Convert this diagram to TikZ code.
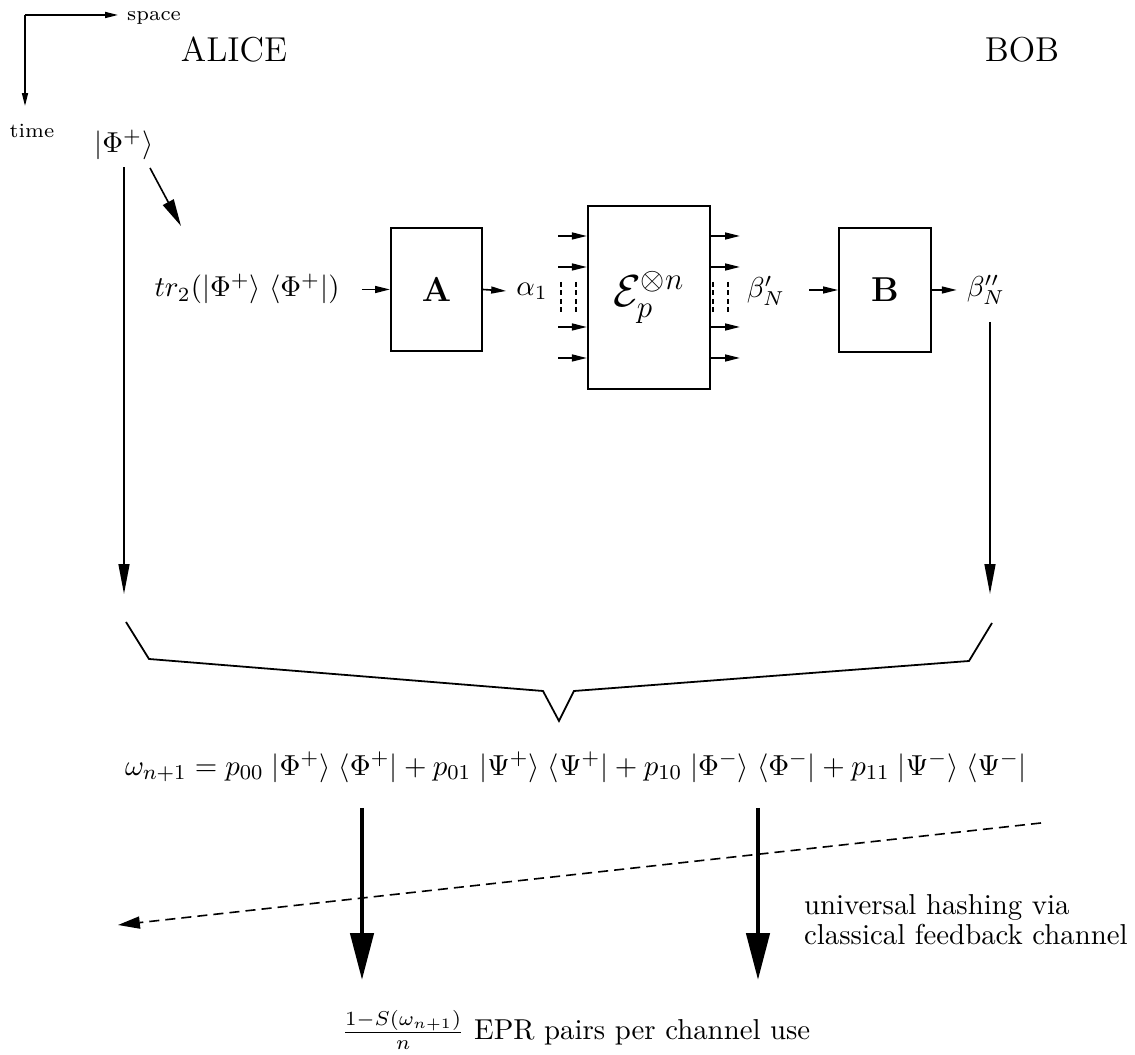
\documentclass[tikz,border=0pt]{standalone}
\usetikzlibrary{arrows.meta}
\begin{document}
\begin{tikzpicture}[x=0.34722pt,y=-0.34722pt,
  base/.style={font=\fontsize{10}{10.6}\selectfont},
  lab/.style={font=\fontsize{10}{12}\selectfont},
  eqf/.style={font=\fontsize{10.95}{13}\selectfont},
  trf/.style={font=\fontsize{10}{12}\selectfont},
  boxf/.style={font=\fontsize{12}{14}\selectfont},
  chf/.style={font=\fontsize{17.28}{20}\selectfont},
  big/.style={font=\fontsize{12}{14}\selectfont},
  tiny/.style={font=\fontsize{7}{8.5}\selectfont},
  axarrow/.style={line width=0.52pt,-{Triangle[length=4.5pt,width=2.1pt]}},
  sarrow/.style={line width=0.56pt,-{Triangle[length=5.2pt,width=2.4pt]}},
  varrow/.style={line width=0.56pt,-{Triangle[length=10.4pt,width=3.8pt]}},
  darrow/.style={line width=0.56pt,-{Triangle[length=9.4pt,width=4.2pt]}},
  tarrow/.style={line width=1.56pt,-{Triangle[length=16.3pt,width=8pt]}},
  hashed/.style={line width=0.56pt,dash pattern=on 3.5pt off 2.1pt,-{Triangle[length=7.6pt,width=4.2pt]}},
  box/.style={draw,line width=0.69pt,inner sep=0pt},
  vdash/.style={line width=0.42pt,dash pattern=on 1.74pt off 1.2pt},
]
\useasboundingbox (0,0) rectangle (1135,1055);
% axes
\coordinate (O) at (25,15);
\coordinate (spaceTip) at (118,15);
\coordinate (timeTip) at (25,106);
\draw[axarrow] (O) -- (spaceTip);
\draw[axarrow] (O) -- (timeTip);
\node[tiny,anchor=base west] (space) at (117,21) {space};
\node[tiny] (time) at (32,131) {time};
\node[big] (alice) at (234,50) {ALICE};
\node[big] (bob) at (1022,50) {BOB};
% Alice state
\node[lab] (ket) at (124,145) {$|\Phi^+\rangle$};
\coordinate (aliceEnd) at (124,594);
\draw[varrow,shorten <=-1pt] (ket.south) -- (aliceEnd);
\coordinate (dA) at (150,168);
\coordinate (dB) at (181,226);
\draw[darrow] (dA) -- (dB);
% row
\node[trf] (tr) at (247,289) {$tr_2(|\Phi^+\rangle\;\langle\Phi^+|)$};
\node[box,boxf,minimum width=31.6pt,minimum height=42.7pt] (A) at (436.5,289.5) {$\mathbf{A}$};
\draw[sarrow,shorten <=4.2pt] (tr.east |- A) -- (A.west);
\node[lab] (a1) at (532,291) {$\alpha_1$};
\draw[sarrow] (A.east) -- (a1.west);
\node[box,chf,minimum width=42.4pt,minimum height=63.5pt] (ch) at (649,297.5) {\scalebox{0.9}{$\mathcal{E}_p^{\otimes n}$}};
\foreach \y [count=\i] in {236,267,327,358} {
  \coordinate (in\i) at (558,\y);
  \coordinate (out\i) at (740,\y);
  \draw[sarrow] (in\i) -- (in\i -| ch.west);
  \draw[sarrow] (out\i -| ch.east) -- (out\i);
}
\draw[vdash] (561,282) -- (561,313);
\draw[vdash] (576,282) -- (576,313);
\draw[vdash] (713,282) -- (713,313);
\draw[vdash] (728,282) -- (728,313);
\node[lab] (b1) at (766,291) {$\beta'_N$};
\node[box,boxf,minimum width=31.9pt,minimum height=43.1pt] (B) at (885,290) {$\mathbf{B}$};
\draw[sarrow,shorten <=4.9pt] (b1.east |- B) -- (B.west);
\node[lab] (b2) at (986,290) {$\beta''_N$};
\draw[sarrow] (B.east) -- (b2.west |- B);
\coordinate (bobStart) at (990,322);
\coordinate (bobEnd) at (990,594);
\draw[varrow] (bobStart) -- (bobEnd);
% brace
\draw[line width=0.62pt,line join=miter] (126,622) -- (149,659) -- (543,691) -- (559,721) -- (574,691) -- (969,661) -- (992,623);
% equation
\node[eqf] (eq) at (576,767) {\scalebox{0.917}{$\omega_{n+1} = p_{00}\;|\Phi^+\rangle\;\langle\Phi^+| + p_{01}\;|\Psi^+\rangle\;\langle\Psi^+| + p_{10}\;|\Phi^-\rangle\;\langle\Phi^-| + p_{11}\;|\Psi^-\rangle\;\langle\Psi^-|$}};
\coordinate (l1) at (362,808);
\coordinate (l2) at (362,980);
\coordinate (r1) at (758,808);
\coordinate (r2) at (758,980);
\draw[tarrow] (l1) -- (l2);
\draw[tarrow] (r1) -- (r2);
\coordinate (h1) at (1041,823);
\coordinate (h2) at (118,925);
\draw[hashed] (h1) -- (h2);
\node[base,align=left,anchor=north west] (hash) at (794,884) {universal hashing via\\classical feedback channel};
\node[base] (rate) at (576,1030) {$\frac{1-S(\omega_{n+1})}{n}$ EPR pairs per channel use};
\end{tikzpicture}
\end{document}
